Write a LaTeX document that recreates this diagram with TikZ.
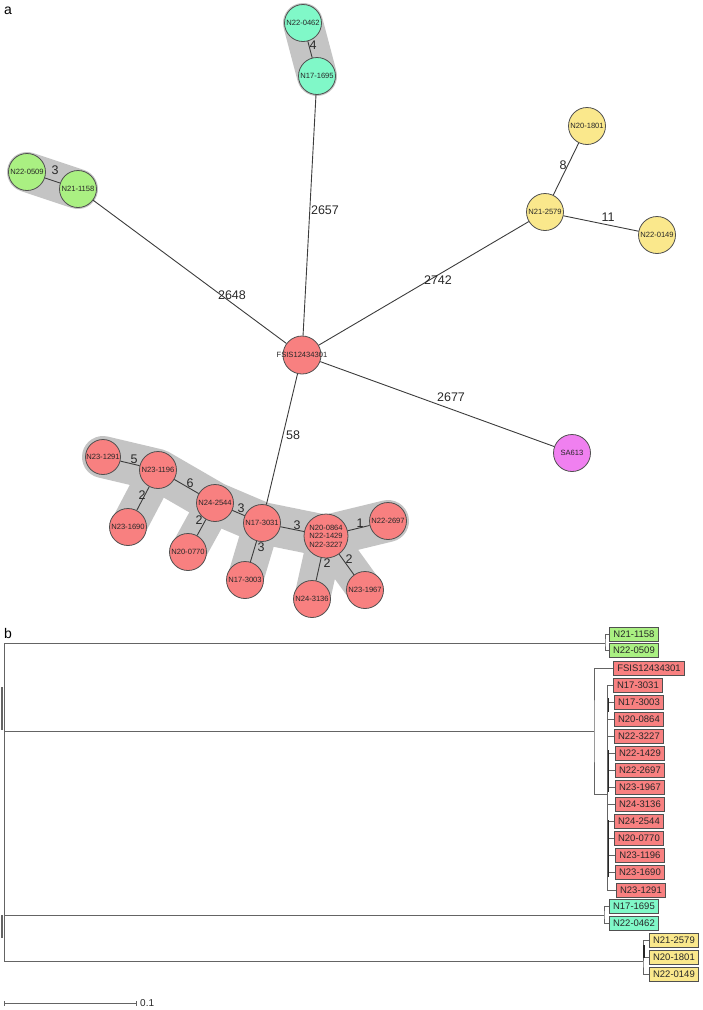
\documentclass[tikz,border=0pt]{standalone}
\usepackage{fontspec}
\setmainfont{Liberation Sans}
\usetikzlibrary{backgrounds}
\definecolor{rfill}{RGB}{248,128,128}
\definecolor{gfill}{RGB}{170,240,130}
\definecolor{tfill}{RGB}{128,248,200}
\definecolor{yfill}{RGB}{250,232,140}
\definecolor{mfill}{RGB}{240,128,240}
\definecolor{haloc}{RGB}{196,196,196}
\definecolor{ndline}{RGB}{80,80,80}
\definecolor{edgec}{RGB}{60,60,60}
\definecolor{txt}{RGB}{40,40,40}
\definecolor{treec}{RGB}{100,100,100}
\begin{document}
\begin{tikzpicture}[x=1pt,y=-1pt,
  nd/.style={circle,draw=ndline,line width=0.8pt,minimum size=37pt,inner sep=0pt,
    font=\fontsize{7.6}{9}\selectfont,text=txt},
  rn/.style={nd,fill=rfill},
  gn/.style={nd,fill=gfill},
  tn/.style={nd,fill=tfill},
  yn/.style={nd,fill=yfill},
  mn/.style={nd,fill=mfill},
  ed/.style={draw=edgec,line width=0.9pt},
  el/.style={font=\fontsize{12.5}{14}\selectfont,text=txt,inner sep=0pt},
  halo/.style={draw=haloc,line width=40pt,line cap=round,line join=round},
  lb/.style={draw=ndline,line width=0.9pt,inner sep=0pt,minimum height=14pt,
    minimum width=49pt,font=\fontsize{9.5}{10}\selectfont,text=txt,anchor=west},
  tr/.style={draw=treec,line width=0.9pt},
  trk/.style={draw=black!85,line width=1.8pt},
  panel/.style={font=\fontsize{14}{16}\selectfont,inner sep=0pt}
]
\useasboundingbox (0,0) rectangle (702,1010);

% panel labels
\node[panel] (pa) at (8,11) {a};
\node[panel] (pb) at (8,633) {b};

% ---------- network nodes ----------
\node[gn] (gA) at (27,172) {\makebox[0pt]{N22-0509}};
\node[gn] (gB) at (78,189) {\makebox[0pt]{N21-1158}};
\node[tn] (tA) at (303,23) {\makebox[0pt]{N22-0462}};
\node[tn] (tB) at (317,76) {\makebox[0pt]{N17-1695}};
\node[yn] (yA) at (587,126) {\makebox[0pt]{N20-1801}};
\node[yn] (yB) at (545,212) {\makebox[0pt]{N21-2579}};
\node[yn] (yC) at (657,235) {\makebox[0pt]{N22-0149}};
\node[mn] (sa) at (572,453) {\makebox[0pt]{SA613}};
\node[rn,minimum size=38pt] (fs) at (302,355) {\makebox[0pt]{FSIS12434301}};
\node[rn,minimum size=35pt] (r1291) at (103,457) {\makebox[0pt]{N23-1291}};
\node[rn] (r1196) at (158,470) {\makebox[0pt]{N23-1196}};
\node[rn] (r1690) at (128,527) {\makebox[0pt]{N23-1690}};
\node[rn] (r2544) at (215,503) {\makebox[0pt]{N24-2544}};
\node[rn] (r0770) at (188,552) {\makebox[0pt]{N20-0770}};
\node[rn] (r3031) at (262,523) {\makebox[0pt]{N17-3031}};
\node[rn] (r3003) at (245,580) {\makebox[0pt]{N17-3003}};
\node[rn,minimum size=44pt] (rbig) at (326,536) {\makebox[0pt]{\shortstack[c]{N20-0864\\N22-1429\\N22-3227}}};
\node[rn] (r2697) at (388,521) {\makebox[0pt]{N22-2697}};
\node[rn] (r3136) at (312,599) {\makebox[0pt]{N24-3136}};
\node[rn] (r1967) at (365,590) {\makebox[0pt]{N23-1967}};

% ---------- halos ----------
\begin{pgfonlayer}{background}
\draw[halo] (gA.center) -- (gB.center);
\draw[halo] (tA.center) -- (tB.center);
\draw[halo,line width=42pt] (r1291.center) -- (r1196.center) -- (r2544.center) -- (r3031.center) -- (rbig.center) -- (r2697.center);
\draw[halo,line width=36pt,line cap=butt] (r1196.center) -- (r1690.center);
\draw[halo,line width=36pt,line cap=butt] (r2544.center) -- (r0770.center);
\draw[halo,line width=36pt,line cap=butt] (r3031.center) -- (r3003.center);
\draw[halo,line width=36pt,line cap=butt] (rbig.center) -- (r3136.center);
\draw[halo,line width=36pt,line cap=butt] (rbig.center) -- (r1967.center);
\end{pgfonlayer}

% ---------- network edges ----------
\draw[ed] (gA) -- (gB);
\draw[ed] (tA) -- (tB);
\draw[ed] (fs) -- (gB);
\draw[ed] (fs) -- (tB);
\draw[ed] (fs) -- (yB);
\draw[ed] (yB) -- (yA);
\draw[ed] (yB) -- (yC);
\draw[ed] (fs) -- (sa);
\draw[ed] (fs) -- (r3031);
\draw[ed] (r1291) -- (r1196);
\draw[ed] (r1196) -- (r2544);
\draw[ed] (r1196) -- (r1690);
\draw[ed] (r2544) -- (r0770);
\draw[ed] (r2544) -- (r3031);
\draw[ed] (r3031) -- (rbig);
\draw[ed] (r3031) -- (r3003);
\draw[ed] (rbig) -- (r2697);
\draw[ed] (rbig) -- (r3136);
\draw[ed] (rbig) -- (r1967);

% ---------- edge labels ----------
\node[el] (l1) at (55,170) {3};
\node[el] (l2) at (313,45) {4};
\node[el] (l3) at (325,210) {2657};
\node[el] (l4) at (232,295) {2648};
\node[el] (l5) at (438,280) {2742};
\node[el] (l6) at (563,165) {8};
\node[el] (l7) at (608,217) {11};
\node[el] (l8) at (451,397) {2677};
\node[el] (l9) at (293,435) {58};
\node[el] (l10) at (134,459) {5};
\node[el] (l11) at (190,483) {6};
\node[el] (l12) at (142,495) {2};
\node[el] (l13) at (241,508) {3};
\node[el] (l14) at (199,520) {2};
\node[el] (l15) at (297,525) {3};
\node[el] (l16) at (360,523) {1};
\node[el] (l17) at (261,547) {3};
\node[el] (l18) at (327,563) {2};
\node[el] (l19) at (349,559) {2};

% ---------- tree leaves ----------
\node[lb,fill=gfill] (b1) at (609,634) {N21-1158};
\node[lb,fill=gfill] (b2) at (609,650) {N22-0509};
\node[lb,fill=rfill,minimum width=71pt] (b3) at (613,668) {FSIS12434301};
\node[lb,fill=rfill] (b4) at (613,685) {N17-3031};
\node[lb,fill=rfill] (b5) at (614,702) {N17-3003};
\node[lb,fill=rfill] (b6) at (614,719) {N20-0864};
\node[lb,fill=rfill] (b7) at (614,736) {N22-3227};
\node[lb,fill=rfill] (b8) at (615,753) {N22-1429};
\node[lb,fill=rfill] (b9) at (615,770) {N22-2697};
\node[lb,fill=rfill] (b10) at (615,787) {N23-1967};
\node[lb,fill=rfill] (b11) at (615,804) {N24-3136};
\node[lb,fill=rfill] (b12) at (614,821) {N24-2544};
\node[lb,fill=rfill] (b13) at (614,838) {N20-0770};
\node[lb,fill=rfill] (b14) at (615,855) {N23-1196};
\node[lb,fill=rfill] (b15) at (615,872) {N23-1690};
\node[lb,fill=rfill] (b16) at (616,890) {N23-1291};
\node[lb,fill=tfill] (b17) at (609,906) {N17-1695};
\node[lb,fill=tfill] (b18) at (609,923) {N22-0462};
\node[lb,fill=yfill] (b19) at (649,940) {N21-2579};
\node[lb,fill=yfill] (b20) at (649,957) {N20-1801};
\node[lb,fill=yfill] (b21) at (649,974) {N22-0149};

% ---------- tree structure ----------
\coordinate (rt1) at (4,643);
\coordinate (rt2) at (4,731);
\coordinate (rt3) at (4,915);
\coordinate (rt4) at (4,961);
\coordinate (rt5) at (2,687);
\coordinate (rt6) at (2,730);
\coordinate (rt7) at (2,915);
\coordinate (rt8) at (2,938);
\coordinate (gq) at (605,643);
\coordinate (rq) at (594,731);
\coordinate (rs) at (607,794);
\coordinate (tq) at (604,915);
\coordinate (yq) at (643,961);

\draw[tr] (rt1) -- (rt4);
\draw[tr,line width=1.6pt] (rt5) -- (rt6);
\draw[tr,line width=1.6pt] (rt7) -- (rt8);
\draw[tr] (rt1) -- (gq);
\draw[tr] (rt2) -- (rq);
\draw[tr] (rt3) -- (tq);
\draw[tr] (rt4) -- (yq);

\draw[tr] (b1.west) -| (gq) |- (b2.west);
\draw[tr] (b3.west) -| (rq) |- (rs);
\foreach \b in {b4,b5,b6,b7,b8,b9,b10,b11,b12,b13,b14,b15,b16}
  \draw[tr] (rs) |- (\b.west);
\draw[tr] (b17.west) -| (tq) |- (b18.west);
\draw[tr] (b19.west) -| (yq) |- (b21.west);
\draw[tr] (yq) |- (b20.west);

\coordinate (k1) at (608.5,698);
\coordinate (k2) at (608.5,712);
\coordinate (k3) at (608.5,750);
\coordinate (k4) at (608.5,792);
\coordinate (k5) at (608.5,820);
\coordinate (k6) at (608.5,877);
\coordinate (k7) at (644,945);
\coordinate (k8) at (644,958);
\draw[trk] (k1) -- (k2);
\draw[trk] (k3) -- (k4);
\draw[trk] (k5) -- (k6);
\draw[trk] (k7) -- (k8);

% ---------- scale bar ----------
\coordinate (s0) at (4,1003);
\coordinate (s1) at (136,1003);
\draw[tr] (s0) -- (s1);
\draw[tr] ([yshift=-2.5pt]s0) -- ([yshift=2.5pt]s0);
\draw[tr] ([yshift=-2.5pt]s1) -- ([yshift=2.5pt]s1);
\node[anchor=west,font=\fontsize{10}{12}\selectfont,text=txt,inner sep=0pt] (sl) at (140,1003) {0.1};
\end{tikzpicture}
\end{document}
